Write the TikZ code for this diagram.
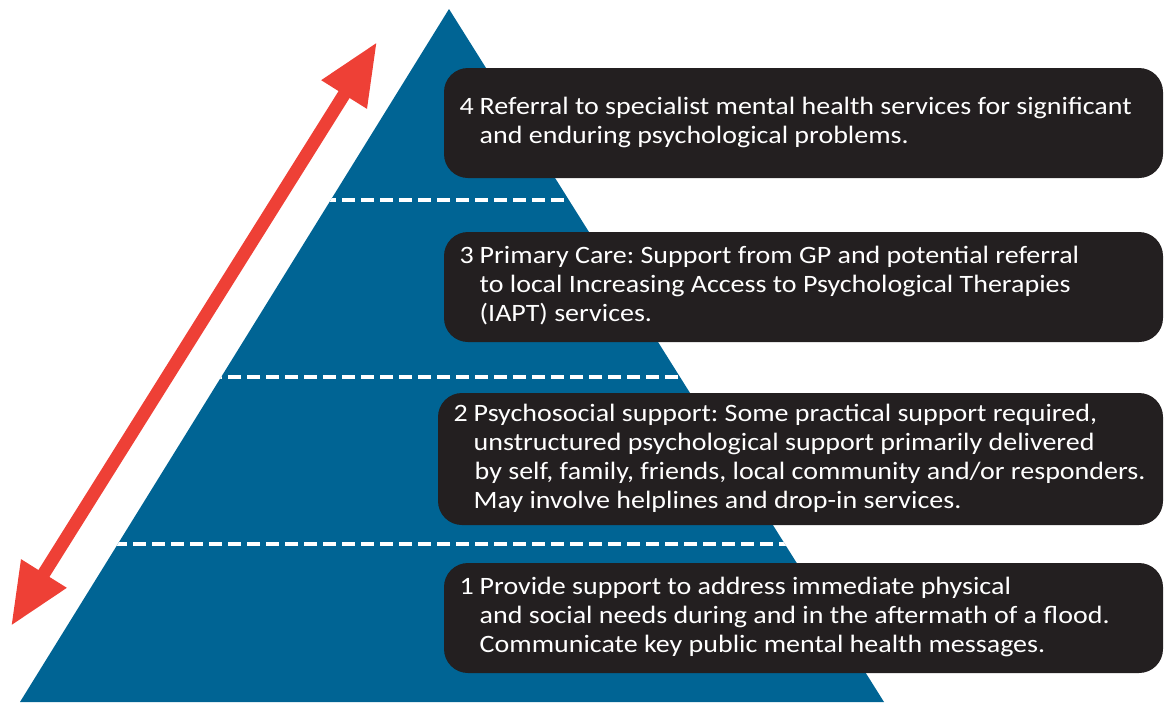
\documentclass[tikz,border=0pt]{standalone}
\usepackage{fontspec}
\setmainfont{Carlito}[FakeStretch=1.12]
\usetikzlibrary{arrows.meta}

\definecolor{pyrblue}{RGB}{0,100,148}
\definecolor{boxblack}{RGB}{35,31,32}
\definecolor{arrowred}{RGB}{238,64,54}

% number in front, wrapped lines indented under the text
\newcommand{\leveltext}[2]{%
  \begin{tabular}{@{}l@{\hspace{6pt}}l@{}}#1 & \begin{tabular}[t]{@{}l@{}}#2\end{tabular}\end{tabular}}

\begin{document}
\frenchspacing
\begin{tikzpicture}[
		x=1pt, y=-1pt,
		pyramid/.style={fill=pyrblue, draw=none},
		levelsep/.style={white, line width=4.5pt, dash pattern=on 13pt off 6pt},
		levelbox/.style={fill=boxblack, rounded corners=24pt, inner sep=0pt},
		leveltxt/.style={text=white, anchor=west, font=\fontsize{25}{29}\selectfont},
		bothways/.style={arrowred, line width=13pt,
			{Triangle[length=62pt,width=50pt]}-{Triangle[length=62pt,width=50pt]}},
		]
	\useasboundingbox (0,0) rectangle (1164,702);

	% pyramid
	\coordinate (apex) at (449,9);
	\coordinate (baseL) at (20,702);
	\coordinate (baseR) at (884,702);
	\fill[pyramid] (apex) -- (baseR) -- (baseL) -- cycle;

	% level separators
	\begin{scope}
		\clip (apex) -- (baseR) -- (baseL) -- cycle;
		\draw[levelsep] (0,200) -- (1164,200);
		\draw[levelsep] (0,377) -- (1164,377);
		\draw[levelsep] (0,544) -- (1164,544);
	\end{scope}

	% double arrow
	\coordinate (arrowlow) at (11,626);
	\coordinate (arrowhigh) at (377,42);
	\draw[bothways] (arrowlow) -- (arrowhigh);

	% level boxes
	\fill[levelbox] (444,68) rectangle (1163,178);
	\fill[levelbox] (444,232) rectangle (1163,342);
	\fill[levelbox] (438,393) rectangle (1163,525);
	\fill[levelbox] (444,563) rectangle (1163,673);

	\node (L4) [leveltxt] at (456,123) {\leveltext{4}{Referral to specialist mental health services for significant\\
		and enduring psychological problems.}};
	\node (L3) [leveltxt] at (456,287) {\leveltext{3}{Primary Care: Support from GP and potential referral\\
		to local Increasing Access to Psychological Therapies\\
		(IAPT) services.}};
	\node (L2) [leveltxt] at (450,459) {\leveltext{2}{Psychosocial support: Some practical support required,\\
		unstructured psychological support primarily delivered\\
		\hspace*{1pt}by self, family, friends, local community and/or responders.\\
		May involve helplines and drop-in services.}};
	\node (L1) [leveltxt] at (456,618) {\leveltext{1}{Provide support to address immediate physical\\
		and social needs during and in the aftermath of a flood.\\
		Communicate key public mental health messages.}};
\end{tikzpicture}
\end{document}
